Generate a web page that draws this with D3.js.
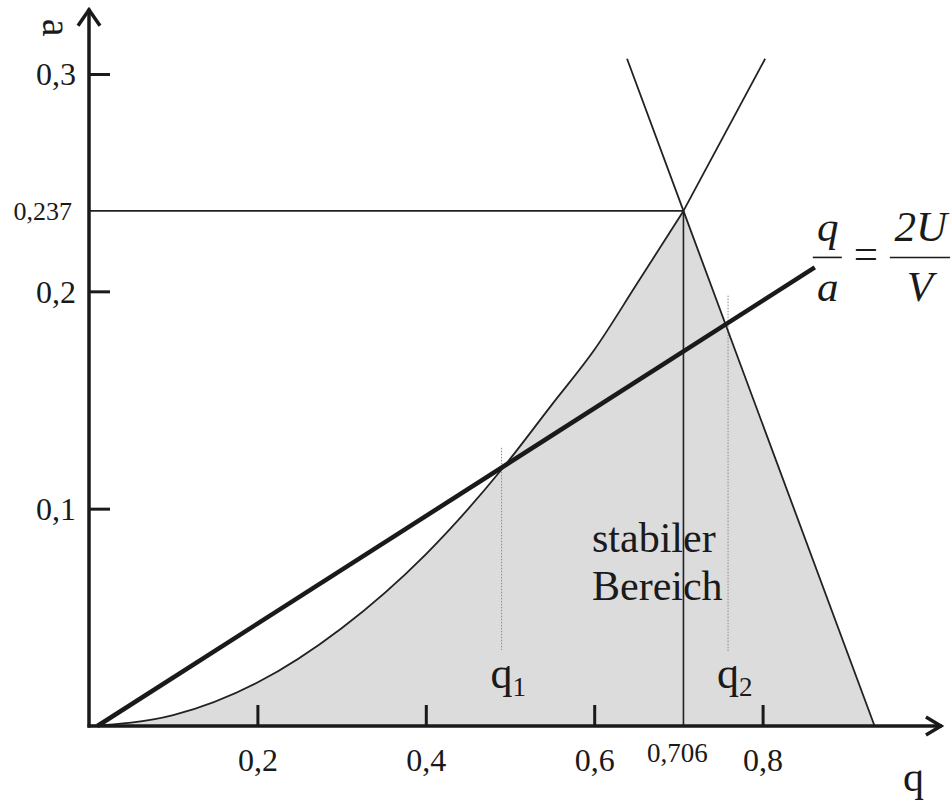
<!DOCTYPE html>
<html>
<head>
<meta charset="utf-8">
<script src="https://cdn.jsdelivr.net/npm/d3@7"></script>
</head>
<body style="margin:0;background:#fff">
<div id="wrapper"></div>
<script>
// Tick values and their labels (German decimal comma)
const qTicks = [0.2, 0.4, 0.6, 0.8];
const qTickLabels = ["0,2", "0,4", "0,6", "0,8"];
const aTicks = [0.1, 0.2, 0.3];
const aTickLabels = ["0,1", "0,2", "0,3"];

// Tip of the stable triangle
const apexQ = 0.706;
const apexA = 0.237;
const apexQLabel = "0,706";
const apexALabel = "0,237";

// Left border of the stability region up to the apex
const leftBorder = [
    [0, 0], [0.1, 0.005], [0.2, 0.02], [0.3, 0.045], [0.4, 0.079],
    [0.49, 0.118], [0.55, 0.148], [0.6, 0.173], [0.65, 0.203], [0.706, 0.237]
];
// Its continuation above the apex
const leftBorderUp = [[0.706, 0.237], [0.803, 0.307]];
// Right border (almost straight)
const rightBorder = [[0.639, 0.307], [0.706, 0.237], [0.933, 0]];
// Working line q/a = 2U/V
const workLine = [[0.01, 0], [0.862, 0.211]];
// Where the working line cuts the borders
const crossQ = [0.49, 0.759];
const crossNames = ["1", "2"];
const crossTopA = [0.128, 0.198];
const crossBottomA = [0.035, 0.034];

// Axis ends (arrow tips)
const qAxisEnd = 1.013;
const aAxisEnd = 0.33;

// single family only, a fallback list ends up in a sans face here
const serif = '"Liberation Serif"';

function buildPlot() {
    let dimension = {
        width: 950,
        height: 800,
        margin: { top: 74, right: 19, bottom: 74, left: 89 },
    }
    dimension.boundedWidth = 842;   // q from 0 to 1
    dimension.boundedHeight = 652;  // a from 0 to 0.3

    const wrapper = d3.select("#wrapper")
        .append("svg")
        .attr("width", dimension.width)
        .attr("height", dimension.height)

    const bounds = wrapper.append("g")
        .attr("transform", `translate(${dimension.margin.left},${dimension.margin.top})`)

    const x = d3.scaleLinear().domain([0, 1]).range([0, dimension.boundedWidth])
    const y = d3.scaleLinear().domain([0, 0.3]).range([dimension.boundedHeight, 0])

    const curveGen = d3.line().x(d => x(d[0])).y(d => y(d[1])).curve(d3.curveMonotoneX)
    const straightGen = d3.line().x(d => x(d[0])).y(d => y(d[1]))

    // Shaded stable region: curved left border, then straight down the right border
    const downRight = rightBorder.filter(d => d[0] > apexQ)
    bounds.append("path")
        .attr("fill", "#dcdcdc")
        .attr("stroke", "none")
        .attr("d", curveGen(leftBorder) + downRight.map(d => `L${x(d[0])},${y(d[1])}`).join("") + "Z")

    // Guide lines to the apex
    bounds.append("line")
        .attr("x1", x(0)).attr("x2", x(apexQ))
        .attr("y1", y(apexA)).attr("y2", y(apexA))
        .attr("stroke", "#222").attr("stroke-width", 1.6)
    bounds.append("line")
        .attr("x1", x(apexQ)).attr("x2", x(apexQ))
        .attr("y1", y(0)).attr("y2", y(apexA))
        .attr("stroke", "#222").attr("stroke-width", 1.6)

    // Dotted markers at q1, q2
    crossQ.forEach((q, i) => {
        bounds.append("line")
            .attr("x1", x(q)).attr("x2", x(q))
            .attr("y1", y(crossTopA[i])).attr("y2", y(crossBottomA[i]))
            .attr("stroke", "#888").attr("stroke-width", 1)
            .attr("stroke-dasharray", "1.5,1.5")
    })

    // Borders
    bounds.append("path")
        .attr("fill", "none").attr("stroke", "#222").attr("stroke-width", 1.8)
        .attr("d", curveGen(leftBorder))
    bounds.append("path")
        .attr("fill", "none").attr("stroke", "#222").attr("stroke-width", 1.8)
        .attr("d", straightGen(leftBorderUp))
    bounds.append("path")
        .attr("fill", "none").attr("stroke", "#222").attr("stroke-width", 1.8)
        .attr("d", straightGen(rightBorder))

    // Working line (thick)
    bounds.append("path")
        .attr("fill", "none").attr("stroke", "#1a1a1a").attr("stroke-width", 4.5)
        .attr("d", straightGen(workLine))

    // Axes with inward ticks
    const yAxis = bounds.append("g")
        .call(d3.axisLeft(y).tickValues(aTicks).tickFormat((d, i) => aTickLabels[i])
            .tickSizeInner(-21).tickSizeOuter(0).tickPadding(13))
    const xAxis = bounds.append("g")
        .attr("transform", `translate(0,${dimension.boundedHeight})`)
        .call(d3.axisBottom(x).tickValues(qTicks).tickFormat((d, i) => qTickLabels[i])
            .tickSizeInner(-21).tickSizeOuter(0).tickPadding(26))
    ;[yAxis, xAxis].forEach(ax => {
        ax.attr("font-family", null).attr("font-size", null)
        ax.select(".domain").remove()
        ax.selectAll(".tick line").attr("stroke", "#1a1a1a").attr("stroke-width", 3)
        ax.selectAll(".tick text").style("font-size", "32px")
    })
    yAxis.selectAll(".tick text").attr("dy", "0.34em")
    xAxis.selectAll(".tick text").attr("dy", "0.6em")

    // Axis lines and arrows
    bounds.append("line")
        .attr("x1", x(0)).attr("x2", x(0))
        .attr("y1", y(0) + 1.5).attr("y2", y(aAxisEnd))
        .attr("stroke", "#1a1a1a").attr("stroke-width", 3.5)
    bounds.append("line")
        .attr("x1", x(0) - 1.5).attr("x2", x(qAxisEnd))
        .attr("y1", y(0)).attr("y2", y(0))
        .attr("stroke", "#1a1a1a").attr("stroke-width", 3.5)
    bounds.append("path")
        .attr("fill", "none").attr("stroke", "#1a1a1a").attr("stroke-width", 3.5)
        .attr("d", `M${x(0) - 11},${y(aAxisEnd) + 17}L${x(0)},${y(aAxisEnd) + 1}L${x(0) + 11},${y(aAxisEnd) + 17}`)
    bounds.append("path")
        .attr("fill", "none").attr("stroke", "#1a1a1a").attr("stroke-width", 3.5)
        .attr("d", `M${x(qAxisEnd) - 16},${y(0) - 9}L${x(qAxisEnd) - 1},${y(0)}L${x(qAxisEnd) - 16},${y(0) + 9}`)

    // Axis names
    bounds.append("text")
        .attr("transform", `translate(${x(0) - 46},${y(aAxisEnd) + 10}) rotate(90)`)
        .style("font-size", "40px")
        .text("a")
    bounds.append("text")
        .attr("x", x(qAxisEnd) - 39).attr("y", y(0) + 65)
        .style("font-size", "42px")
        .text("q")

    // Apex labels
    bounds.append("text")
        .attr("x", x(0) - 17).attr("y", y(apexA) + 9)
        .attr("text-anchor", "end")
        .style("font-size", "26px")
        .text(apexALabel)
    bounds.append("text")
        .attr("x", x(apexQ) - 6).attr("y", y(0) + 36)
        .attr("text-anchor", "middle")
        .style("font-size", "27px")
        .text(apexQLabel)

    // q1, q2 labels
    crossQ.forEach((q, i) => {
        const t = bounds.append("text")
            .attr("x", x(q) - 11).attr("y", y(0) - 38)
            .style("font-size", "44px")
        t.append("tspan").text("q")
        t.append("tspan").attr("dy", 8).style("font-size", "27px").text(crossNames[i])
    })

    // Region label
    const lbl = bounds.append("text").style("font-size", "42px")
    lbl.append("tspan").attr("x", 503).attr("y", 478).text("stabiler")
    lbl.append("tspan").attr("x", 503).attr("y", 526).text("Bereich")

    // Equation q/a = 2U/V next to the end of the working line
    const ex = x(workLine[1][0]), ey = y(workLine[1][1])
    const eq = bounds.append("g").attr("transform", `translate(${ex},${ey})`)
    const it = s => s.style("font-size", "43px").style("font-style", "italic")
    it(eq.append("text").attr("x", 13).attr("y", -26).attr("text-anchor", "middle").text("q"))
    it(eq.append("text").attr("x", 13).attr("y", 34).attr("text-anchor", "middle").text("a"))
    eq.append("line").attr("x1", -2).attr("x2", 27).attr("y1", -10).attr("y2", -10)
        .attr("stroke", "#1a1a1a").attr("stroke-width", 1.6)
    eq.append("text").attr("x", 51).attr("y", 1).attr("text-anchor", "middle")
        .style("font-size", "43px").text("=")
    it(eq.append("text").attr("x", 106).attr("y", -26).attr("text-anchor", "middle").text("2U"))
    it(eq.append("text").attr("x", 105).attr("y", 34).attr("text-anchor", "middle").text("V"))
    eq.append("line").attr("x1", 75).attr("x2", 140).attr("y1", -10).attr("y2", -10)
        .attr("stroke", "#1a1a1a").attr("stroke-width", 1.6)

    // Same serif face for every text
    wrapper.selectAll("text, tspan").style("font-family", serif)
    wrapper.selectAll("text").attr("fill", "#1a1a1a")
}

buildPlot()
</script>
</body>
</html>
